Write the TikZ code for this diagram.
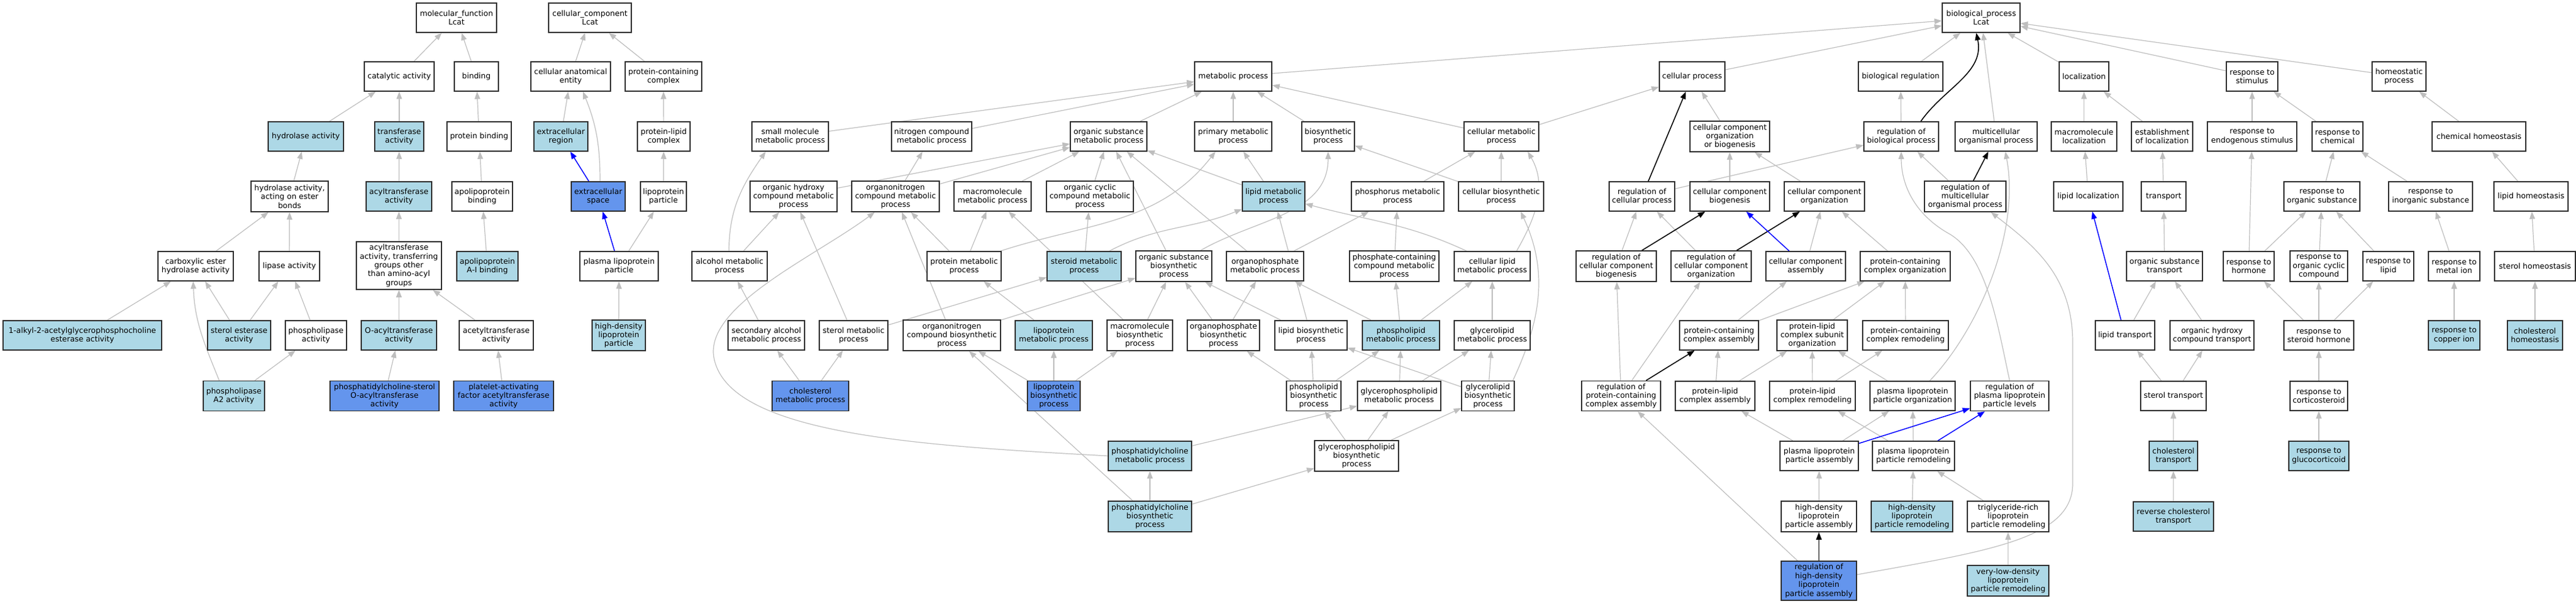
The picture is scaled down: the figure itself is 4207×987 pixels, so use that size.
\documentclass[tikz,border=0pt]{standalone}
\usepackage{fontspec}
\setmainfont{DejaVu Sans}
\usetikzlibrary{arrows.meta,calc}
\definecolor{eg}{RGB}{190,190,190}
\definecolor{lb}{RGB}{173,216,230}
\definecolor{cb}{RGB}{100,149,237}
\definecolor{bd}{RGB}{45,45,45}
\pgfdeclarelayer{back}
\pgfdeclarelayer{bg}
\pgfsetlayers{back,bg,main}
\tikzset{
  box/.style={draw=bd, line width=1.5pt, fill=white, inner sep=0.5pt, align=center,
    font=\fontsize{12.5}{14.4}\selectfont, text=black},
  lbbox/.style={box, fill=lb},
  cbbox/.style={box, fill=cb},
  ge/.style={draw=eg, line width=1.2pt, -{Triangle[length=12pt,width=9pt]}},
  be/.style={draw=black, line width=1.6pt, -{Triangle[length=12pt,width=9pt]}},
  ue/.style={draw=blue, line width=1.5pt, -{Triangle[length=12pt,width=9pt]}},
}
\newcommand\gn[7]{\node[#1,minimum width=#5pt,minimum height=#6pt] (#2) at (#3,#4) {#7};}
\begin{document}
\begin{tikzpicture}[x=1pt,y=1pt]
\useasboundingbox (0,0) rectangle (4207,-987);
\begin{pgfonlayer}{back}
\fill[white] (0,0) rectangle (4207,-987);
\end{pgfonlayer}
% ---------------- molecular function
\gn{box}{mf}{745.5}{-29}{131}{48}{molecular\_function\\Lcat}
\gn{box}{cat}{652}{-125}{114}{48}{catalytic activity}
\gn{box}{bind}{778}{-125}{72}{48}{binding}
\gn{lbbox}{hyd}{499.5}{-223}{123}{48}{hydrolase activity}
\gn{lbbox}{trans}{652}{-223}{80}{48}{transferase\\activity}
\gn{box}{pbind}{782.5}{-223}{105}{48}{protein binding}
\gn{box}{hydester}{473}{-321}{126}{50}{hydrolase activity,\\acting on ester\\bonds}
\gn{lbbox}{acyl}{651.5}{-321}{107}{48}{acyltransferase\\activity}
\gn{box}{apob}{787.5}{-321}{99}{48}{apolipoprotein\\binding}
\gn{box}{carb}{319.5}{-435}{123}{48}{carboxylic ester\\hydrolase activity}
\gn{box}{lipase}{472.5}{-435}{99}{48}{lipase activity}
\gn{box}{acylother}{651.5}{-434}{139}{78}{acyltransferase\\activity, transferring\\groups other\\than amino-acyl\\groups}
\gn{lbbox}{apoa}{796}{-435}{100}{48}{apolipoprotein\\A-I binding}
\gn{lbbox}{alkyl}{134.5}{-548}{259}{48}{1-alkyl-2-acetylglycerophosphocholine\\esterase activity}
\gn{lbbox}{sterolest}{390.5}{-548}{103}{48}{sterol esterase\\activity}
\gn{box}{phlip}{516}{-548}{100}{48}{phospholipase\\activity}
\gn{lbbox}{oacyl}{651.5}{-548}{123}{48}{O-acyltransferase\\activity}
\gn{box}{acetyl}{810.5}{-548}{121}{48}{acetyltransferase\\activity}
\gn{lbbox}{pla}{382}{-647}{100}{49}{phospholipase\\A2 activity}
\gn{cbbox}{pcsterol}{628}{-647}{178}{49}{phosphatidylcholine-sterol\\O-acyltransferase\\activity}
\gn{cbbox}{paf}{822.5}{-647}{163}{49}{platelet-activating\\factor acetyltransferase\\activity}
% ---------------- cellular component
\gn{box}{cc}{963.5}{-29}{135}{48}{cellular\_component\\Lcat}
\gn{box}{cae}{932}{-125}{130}{48}{cellular anatomical\\entity}
\gn{box}{pcc}{1083.5}{-125}{125}{48}{protein-containing\\complex}
\gn{lbbox}{exreg}{916}{-223}{88}{48}{extracellular\\region}
\gn{box}{plc}{1084}{-223}{86}{48}{protein-lipid\\complex}
\gn{cbbox}{exspace}{977}{-321}{88}{48}{extracellular\\space}
\gn{box}{lpp}{1083.5}{-321}{75}{48}{lipoprotein\\particle}
\gn{box}{plpp}{1011}{-435}{128}{48}{plasma lipoprotein\\particle}
\gn{lbbox}{hdlp}{1010.5}{-548}{87}{50}{high-density\\lipoprotein\\particle}
% ---------------- biological process R0/R1
\gn{box}{bp}{3235.5}{-29}{127}{48}{biological\_process\\Lcat}
\gn{box}{metab}{2014}{-125}{126}{48}{metabolic process}
\gn{box}{cellproc}{2763.5}{-125}{107}{48}{cellular process}
\gn{box}{bioreg}{3104}{-125}{138}{48}{biological regulation}
\gn{box}{loc}{3403.5}{-125}{81}{48}{localization}
\gn{box}{stim}{3678}{-125}{84}{48}{response to\\stimulus}
\gn{box}{homeo}{3918}{-125}{88}{48}{homeostatic\\process}
% R2
\gn{box}{small}{1290.5}{-223}{125}{48}{small molecule\\metabolic process}
\gn{box}{nitro}{1521.5}{-223}{131}{48}{nitrogen compound\\metabolic process}
\gn{box}{orgsub}{1810.5}{-223}{125}{48}{organic substance\\metabolic process}
\gn{box}{primary}{2014}{-223}{126}{48}{primary metabolic\\process}
\gn{box}{biosyn}{2169}{-223}{86}{48}{biosynthetic\\process}
\gn{box}{cellmeta}{2452}{-223}{122}{48}{cellular metabolic\\process}
\gn{box}{ccob}{2825}{-223}{130}{50}{cellular component\\organization\\or biogenesis}
\gn{box}{regbp}{3105}{-223}{122}{48}{regulation of\\biological process}
\gn{box}{multi}{3260}{-223}{134}{48}{multicellular\\organismal process}
\gn{box}{macroloc}{3403.5}{-223}{107}{48}{macromolecule\\localization}
\gn{box}{estloc}{3531}{-223}{100}{48}{establishment\\of localization}
\gn{box}{respendo}{3678}{-223}{146}{48}{response to\\endogenous stimulus}
\gn{box}{respchem}{3817.5}{-223}{83}{48}{response to\\chemical}
\gn{box}{chemhomeo}{4048.5}{-223}{153}{48}{chemical homeostasis}
% R3
\gn{box}{orghyd}{1296}{-321}{142}{50}{organic hydroxy\\compound metabolic\\process}
\gn{box}{orgnit}{1462.5}{-321}{143}{50}{organonitrogen\\compound metabolic\\process}
\gn{box}{macromet}{1621}{-321}{126}{48}{macromolecule\\metabolic process}
\gn{box}{orgcyc}{1780}{-321}{142}{50}{organic cyclic\\compound metabolic\\process}
\gn{lbbox}{lipidmet}{2080}{-321}{102}{48}{lipid metabolic\\process}
\gn{box}{phosph}{2282.5}{-321}{151}{48}{phosphorus metabolic\\process}
\gn{box}{cellbio}{2451.5}{-321}{139}{48}{cellular biosynthetic\\process}
\gn{box}{regcp}{2681.5}{-321}{107}{48}{regulation of\\cellular process}
\gn{box}{ccb}{2825}{-321}{130}{48}{cellular component\\biogenesis}
\gn{box}{cco}{2979.5}{-321}{131}{48}{cellular component\\organization}
\gn{box}{regmulti}{3209.5}{-321}{133}{50}{regulation of\\multicellular\\organismal process}
\gn{box}{lipidloc}{3410.5}{-321}{113}{48}{lipid localization}
\gn{box}{transport}{3533.5}{-321}{73}{48}{transport}
\gn{box}{resporg}{3792}{-321}{124}{48}{response to\\organic substance}
\gn{box}{respinorg}{3969.5}{-321}{137}{48}{response to\\inorganic substance}
\gn{box}{lipidhomeo}{4133.5}{-321}{121}{48}{lipid homeostasis}
% R4
\gn{box}{alcohol}{1191.5}{-435}{123}{48}{alcohol metabolic\\process}
\gn{box}{protmet}{1574.5}{-435}{121}{48}{protein metabolic\\process}
\gn{lbbox}{steroid}{1770.5}{-435}{121}{48}{steroid metabolic\\process}
\gn{box}{osbio}{1917}{-435}{124}{50}{organic substance\\biosynthetic\\process}
\gn{box}{opmet}{2066}{-435}{126}{48}{organophosphate\\metabolic process}
\gn{box}{pcmpd}{2277}{-435}{146}{50}{phosphate-containing\\compound metabolic\\process}
\gn{box}{celllipid}{2437}{-435}{124}{48}{cellular lipid\\metabolic process}
\gn{box}{regccb}{2639.5}{-435}{131}{50}{regulation of\\cellular component\\biogenesis}
\gn{box}{regcco}{2794.5}{-435}{131}{50}{regulation of\\cellular component\\organization}
\gn{box}{ccasm}{2949}{-435}{130}{48}{cellular component\\assembly}
\gn{box}{pcco}{3111.5}{-435}{147}{48}{protein-containing\\complex organization}
\gn{box}{ostrans}{3535}{-435}{124}{48}{organic substance\\transport}
\gn{box}{resphorm}{3672.5}{-435}{83}{48}{response to\\hormone}
\gn{box}{respcyc}{3787}{-435}{94}{50}{response to\\organic cyclic\\compound}
\gn{box}{resplipid}{3900.5}{-435}{83}{48}{response to\\lipid}
\gn{box}{respmetal}{4008}{-435}{84}{48}{response to\\metal ion}
\gn{box}{sterolhomeo}{4140}{-435}{132}{48}{sterol homeostasis}
% R5
\gn{box}{secalc}{1251.5}{-548}{125}{48}{secondary alcohol\\metabolic process}
\gn{box}{sterolmet}{1394}{-548}{112}{48}{sterol metabolic\\process}
\gn{box}{onbio}{1554.5}{-548}{159}{50}{organonitrogen\\compound biosynthetic\\process}
\gn{lbbox}{lpmet}{1721}{-548}{126}{48}{lipoprotein\\metabolic process}
\gn{box}{macrobio}{1861.5}{-548}{107}{50}{macromolecule\\biosynthetic\\process}
\gn{box}{opbio}{1998}{-548}{118}{50}{organophosphate\\biosynthetic\\process}
\gn{box}{lipidbio}{2141}{-548}{118}{48}{lipid biosynthetic\\process}
\gn{lbbox}{plmet}{2288}{-548}{126}{48}{phospholipid\\metabolic process}
\gn{box}{glmet}{2437}{-548}{124}{48}{glycerolipid\\metabolic process}
\gn{box}{pcca}{2807.5}{-548}{129}{48}{protein-containing\\complex assembly}
\gn{box}{plcso}{2959.5}{-548}{115}{50}{protein-lipid\\complex subunit\\organization}
\gn{box}{pccrem}{3112}{-548}{140}{48}{protein-containing\\complex remodeling}
\gn{box}{lipidtrans}{3470.5}{-548}{97}{48}{lipid transport}
\gn{box}{ohctrans}{3612.5}{-548}{137}{48}{organic hydroxy\\compound transport}
\gn{box}{respster}{3787}{-548}{114}{48}{response to\\steroid hormone}
\gn{lbbox}{respcopper}{4008}{-548}{84}{48}{response to\\copper ion}
\gn{lbbox}{cholhomeo}{4140}{-548}{90}{48}{cholesterol\\homeostasis}
% R6
\gn{cbbox}{cholmet}{1323.5}{-647}{125}{49}{cholesterol\\metabolic process}
\gn{cbbox}{lpbio}{1721}{-647}{86}{49}{lipoprotein\\biosynthetic\\process}
\gn{box}{plbio}{2145.5}{-647}{89}{49}{phospholipid\\biosynthetic\\process}
\gn{box}{gpmet}{2285}{-647}{136}{48}{glycerophospholipid\\metabolic process}
\gn{box}{glbio}{2430}{-647}{86}{49}{glycerolipid\\biosynthetic\\process}
\gn{box}{regpcca}{2647.5}{-647}{129}{49}{regulation of\\protein-containing\\complex assembly}
\gn{box}{plca}{2801}{-647}{130}{48}{protein-lipid\\complex assembly}
\gn{box}{plcrem}{2960}{-647}{140}{48}{protein-lipid\\complex remodeling}
\gn{box}{plporg}{3123.5}{-647}{139}{48}{plasma lipoprotein\\particle organization}
\gn{box}{regplev}{3282}{-647}{128}{49}{regulation of\\plasma lipoprotein\\particle levels}
\gn{box}{steroltrans}{3549.5}{-647}{107}{48}{sterol transport}
\gn{box}{respcort}{3787}{-647}{94}{48}{response to\\corticosteroid}
% R7
\gn{lbbox}{pcmet}{1878}{-745}{136}{48}{phosphatidylcholine\\metabolic process}
\gn{box}{gpbio}{2215.5}{-745}{137}{50}{glycerophospholipid\\biosynthetic\\process}
\gn{box}{plpasm}{2971}{-745}{128}{48}{plasma lipoprotein\\particle assembly}
\gn{box}{plprem}{3125}{-745}{134}{48}{plasma lipoprotein\\particle remodeling}
\gn{lbbox}{choltrans}{3549.5}{-745}{79}{48}{cholesterol\\transport}
\gn{lbbox}{respgluco}{3787}{-745}{98}{48}{response to\\glucocorticoid}
% R8
\gn{lbbox}{pcbio}{1878}{-844}{136}{50}{phosphatidylcholine\\biosynthetic\\process}
\gn{box}{hdlasm}{2970.5}{-844}{123}{50}{high-density\\lipoprotein\\particle assembly}
\gn{lbbox}{hdlrem}{3122.5}{-844}{133}{50}{high-density\\lipoprotein\\particle remodeling}
\gn{box}{tgrem}{3279.5}{-844}{133}{50}{triglyceride-rich\\lipoprotein\\particle remodeling}
\gn{lbbox}{revchol}{3549.5}{-844}{131}{48}{reverse cholesterol\\transport}
% R9
\gn{cbbox}{reghdl}{2970.5}{-949}{123}{64}{regulation of\\high-density\\lipoprotein\\particle assembly}
\gn{lbbox}{vldl}{3279.5}{-949}{133}{50}{very-low-density\\lipoprotein\\particle remodeling}
% ================= edges
\begin{pgfonlayer}{bg}
\foreach \a/\b in {cat/mf, bind/mf, hyd/cat, trans/cat, pbind/bind, hydester/hyd, acyl/trans, apob/pbind,
  carb/hydester, lipase/hydester, acylother/acyl, apoa/apob, alkyl/carb, sterolest/carb, sterolest/lipase,
  phlip/lipase, pla/phlip, oacyl/acylother, acetyl/acylother, pcsterol/oacyl, paf/acetyl,
  cae/cc, pcc/cc, exreg/cae, plc/pcc, lpp/plc, plpp/lpp, hdlp/plpp,
  metab/bp, cellproc/bp, bioreg/bp, loc/bp, stim/bp, homeo/bp, multi/bp,
  small/metab, nitro/metab, orgsub/metab, primary/metab, biosyn/metab, cellmeta/metab, cellmeta/cellproc,
  ccob/cellproc, regbp/bioreg, macroloc/loc, estloc/loc, respendo/stim, respchem/stim, chemhomeo/homeo,
  orghyd/orgsub, orgnit/nitro, orgnit/orgsub, macromet/orgsub, orgcyc/orgsub, lipidmet/orgsub, lipidmet/primary,
  phosph/cellmeta, cellbio/cellmeta, cellbio/biosyn, regcp/regbp, ccb/ccob, cco/ccob, regmulti/regbp,
  lipidloc/macroloc, transport/estloc, resporg/respchem, respinorg/respchem, lipidhomeo/chemhomeo,
  alcohol/orghyd, protmet/orgnit, protmet/macromet, steroid/orgcyc, osbio/orgsub, opmet/orgsub, opmet/phosph,
  pcmpd/phosph, regccb/regcp, regcco/regcp, ccasm/cco, pcco/cco, ostrans/transport, resphorm/resporg,
  resphorm/respendo, respcyc/resporg, resplipid/resporg, respmetal/respinorg, sterolhomeo/lipidhomeo,
  secalc/alcohol, sterolmet/orghyd, sterolmet/steroid, onbio/orgnit, onbio/osbio, lpmet/protmet,
  macrobio/macromet, macrobio/osbio, opbio/opmet, opbio/osbio, lipidbio/lipidmet, lipidbio/osbio,
  plmet/opmet, plmet/pcmpd, plmet/celllipid, glmet/celllipid, pcca/ccasm, pcca/pcco, plcso/pcco, pccrem/pcco,
  lipidtrans/ostrans, ohctrans/ostrans, respster/resphorm, respster/respcyc, respster/resplipid,
  respcopper/respmetal, cholhomeo/sterolhomeo,
  cholmet/secalc, cholmet/sterolmet, lpbio/onbio, lpbio/lpmet, lpbio/macrobio, plbio/lipidbio, plbio/plmet,
  plbio/opbio, gpmet/plmet, gpmet/glmet, glbio/lipidbio, glbio/glmet, regpcca/regccb, regpcca/regcco,
  plca/pcca, plca/plcso, plcrem/plcso, plcrem/pccrem, plporg/plcso, steroltrans/lipidtrans,
  steroltrans/ohctrans, respcort/respster,
  pcmet/gpmet, gpbio/plbio, gpbio/gpmet, gpbio/glbio, plpasm/plca, plpasm/plporg, plprem/plcrem,
  plprem/plporg, choltrans/steroltrans, respgluco/respcort,
  pcbio/pcmet, pcbio/onbio, pcbio/gpbio, hdlasm/plpasm, hdlrem/plprem, tgrem/plprem, revchol/choltrans,
  reghdl/regpcca, vldl/tgrem}
  \draw[ge] (\a) -- (\b);
% black
\foreach \a/\b in {regcp/cellproc, regccb/ccb, regcco/cco, regpcca/pcca, regmulti/multi, reghdl/hdlasm}
  \draw[be] (\a) -- (\b);
% blue
\foreach \a/\b in {exspace/exreg, plpp/exspace, ccasm/ccb, lipidtrans/lipidloc, plpasm/regplev, plprem/regplev}
  \draw[ue] (\a) -- (\b);
% curves
\draw[be] ([xshift=32pt]regbp.north) to[out=55,in=-78] ([xshift=-8pt]bp.south);
\draw[ge] ([xshift=-24pt]pla.north) to[out=112,in=-88] ([xshift=-4pt]carb.south);
\draw[ge] ([xshift=3pt]exspace.north) to[out=90,in=-68] ([xshift=20pt]cae.south);
\draw[ge] ([xshift=-1pt]alcohol.north) to[out=90,in=-125] ([xshift=-40pt]small.south);
\draw[ge] ([xshift=-2pt]protmet.north east) to[out=18,in=-128] ([xshift=-29pt]primary.south);
\draw[ge] ([xshift=-20pt]steroid.north east) to[out=28,in=-158] ([yshift=4pt]lipidmet.south west);
\draw[ge] ([xshift=-19pt]osbio.north east) to[out=30,in=-90] (biosyn.south);
\draw[ge] ([xshift=-23pt]celllipid.north east) to[out=60,in=-60] ([xshift=43pt]cellmeta.south);
\draw[ge] ([xshift=21pt]celllipid.north west) to[out=155,in=-15] ([yshift=-12pt]lipidmet.east);
\draw[ge] ([xshift=-3pt]glbio.north east) to[out=65,in=-65] ([xshift=32pt]cellbio.south);
\draw[ge] (pcmet.west) .. controls (1500,-728) and (1190,-710) .. (1166,-585)
  .. controls (1150,-500) and (1330,-420) .. ([xshift=-34pt]orgnit.south);
\draw[ge] ([xshift=28pt]plporg.north) .. controls (3230,-540) and (3300,-380) .. ([xshift=15pt]multi.south);
\draw[ge] (regplev.north) .. controls (3262,-530) and (3245,-420) .. (3185,-383)
  .. controls (3125,-350) and (3105,-300) .. (regbp.south);
\draw[ge] ([yshift=10pt]reghdl.east) .. controls (3250,-900) and (3385,-880) .. (3385,-790)
  -- (3385,-560) .. controls (3385,-450) and (3320,-400) .. ([xshift=42pt]regmulti.south);
\end{pgfonlayer}
\end{tikzpicture}
\end{document}
